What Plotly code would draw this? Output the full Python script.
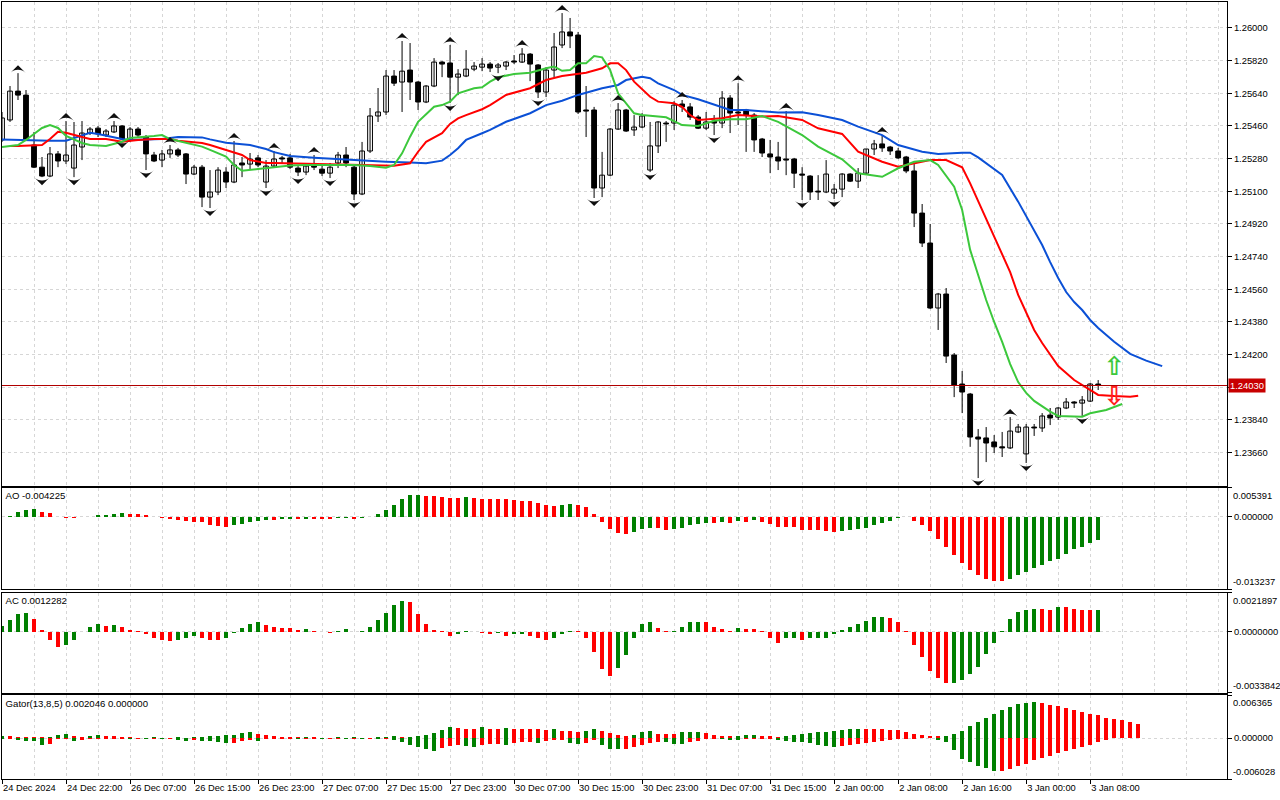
import plotly.graph_objects as go

# ---------------- data ----------------
time_labels = ["24 Dec 2024", "24 Dec 22:00", "26 Dec 07:00", "26 Dec 15:00", "26 Dec 23:00",
               "27 Dec 07:00", "27 Dec 15:00", "27 Dec 23:00", "30 Dec 07:00", "30 Dec 15:00",
               "30 Dec 23:00", "31 Dec 07:00", "31 Dec 15:00", "2 Jan 00:00", "2 Jan 08:00",
               "2 Jan 16:00", "3 Jan 00:00", "3 Jan 08:00"]

opens = [1.25383,1.25493,1.25652,1.25630,1.25355,1.25233,1.25184,1.25306,1.25267,1.25228,
         1.25344,1.25421,1.25448,1.25410,1.25427,1.25460,1.25383,1.25443,1.25399,1.25300,
         1.25272,1.25306,1.25328,1.25306,1.25195,1.25233,1.25068,1.25096,1.25206,1.25151,
         1.25256,1.25250,1.25284,1.25151,1.25239,1.25284,1.25284,1.25228,1.25206,1.25245,
         1.25222,1.25200,1.25256,1.25300,1.25233,1.25085,1.25322,1.25515,1.25537,1.25735,
         1.25702,1.25768,1.25702,1.25592,1.25680,1.25812,1.25807,1.25729,1.25735,1.25773,
         1.25784,1.25801,1.25784,1.25790,1.25818,1.25812,1.25856,1.25796,1.25647,1.25768,
         1.25906,1.25978,1.25961,1.25548,1.25548,1.25118,1.25189,1.25443,1.25548,1.25438,
         1.25454,1.25217,1.25350,1.25476,1.25476,1.25581,1.25565,1.25509,1.25448,1.25487,
         1.25476,1.25614,1.25537,1.25548,1.25520,1.25388,1.25306,1.25289,1.25278,1.25278,
         1.25195,1.25184,1.25101,1.25096,1.25090,1.25112,1.25195,1.25156,1.25200,1.25333,
         1.25361,1.25344,1.25322,1.25289,1.25212,1.24980,1.24815,1.24457,1.24534,1.24198,
         1.24038,1.23983,1.23746,1.23741,1.23719,1.23692,1.23686,1.23774,1.23653,1.23801,
         1.23796,1.23867,1.23856,1.23906,1.23939,1.23933,1.23944,1.24038]
highs = [1.25537,1.25680,1.25751,1.25658,1.25427,1.25289,1.25344,1.25322,1.25487,1.25482,
         1.25487,1.25454,1.25460,1.25443,1.25487,1.25465,1.25454,1.25454,1.25410,1.25317,
         1.25328,1.25355,1.25339,1.25311,1.25245,1.25245,1.25217,1.25233,1.25233,1.25377,
         1.25289,1.25311,1.25300,1.25272,1.25322,1.25295,1.25306,1.25245,1.25256,1.25300,
         1.25239,1.25256,1.25317,1.25344,1.25245,1.25372,1.25559,1.25669,1.25768,1.25768,
         1.25928,1.25917,1.25707,1.25685,1.25834,1.25818,1.25906,1.25773,1.25878,1.25812,
         1.25834,1.25812,1.25807,1.25818,1.25851,1.25889,1.25862,1.25801,1.25784,1.25972,
         1.26082,1.26055,1.25978,1.25680,1.25565,1.25317,1.25448,1.25586,1.25554,1.25520,
         1.25531,1.25482,1.25487,1.25487,1.25597,1.25603,1.25586,1.25520,1.25537,1.25520,
         1.25652,1.25630,1.25696,1.25554,1.25531,1.25394,1.25383,1.25372,1.25542,1.25284,
         1.25233,1.25189,1.25189,1.25272,1.25140,1.25200,1.25200,1.25228,1.25333,1.25383,
         1.25410,1.25350,1.25339,1.25295,1.25250,1.25030,1.24920,1.24540,1.24567,1.24209,
         1.24110,1.23989,1.23790,1.23801,1.23757,1.23774,1.23856,1.23818,1.23818,1.23818,
         1.23878,1.23906,1.23911,1.23961,1.23944,1.23972,1.24044,1.24060]
lows = [1.25372,1.25482,1.25603,1.25383,1.25228,1.25178,1.25178,1.25233,1.25250,1.25178,
        1.25272,1.25410,1.25399,1.25399,1.25421,1.25383,1.25372,1.25399,1.25217,1.25261,
        1.25233,1.25284,1.25289,1.25140,1.25189,1.25013,1.25008,1.25079,1.25118,1.25145,
        1.25178,1.25217,1.25233,1.25118,1.25233,1.25256,1.25222,1.25184,1.25189,1.25217,
        1.25184,1.25173,1.25228,1.25233,1.25052,1.25079,1.25311,1.25482,1.25520,1.25680,
        1.25537,1.25603,1.25548,1.25586,1.25674,1.25729,1.25586,1.25630,1.25729,1.25762,
        1.25762,1.25757,1.25751,1.25768,1.25801,1.25807,1.25707,1.25614,1.25619,1.25729,
        1.25889,1.25889,1.25526,1.25399,1.25063,1.25068,1.25184,1.25438,1.25427,1.25405,
        1.25448,1.25206,1.25311,1.25372,1.25438,1.25537,1.25493,1.25443,1.25438,1.25410,
        1.25448,1.25421,1.25465,1.25317,1.25317,1.25289,1.25200,1.25217,1.25189,1.25118,
        1.25052,1.25052,1.25052,1.25090,1.25057,1.25068,1.25151,1.25118,1.25195,1.25300,
        1.25317,1.25300,1.25278,1.25200,1.24903,1.24793,1.24451,1.24336,1.24154,1.23966,
        1.23878,1.23692,1.23520,1.23608,1.23658,1.23636,1.23680,1.23768,1.23603,1.23752,
        1.23774,1.23812,1.23840,1.23900,1.23906,1.23862,1.23939,1.24005]
closes = [1.25504,1.25652,1.25630,1.25388,1.25233,1.25184,1.25306,1.25267,1.25300,1.25355,
          1.25421,1.25443,1.25416,1.25432,1.25460,1.25388,1.25443,1.25410,1.25306,1.25267,
          1.25306,1.25328,1.25300,1.25195,1.25233,1.25068,1.25096,1.25217,1.25151,1.25245,
          1.25245,1.25278,1.25245,1.25239,1.25278,1.25278,1.25233,1.25206,1.25239,1.25233,
          1.25200,1.25233,1.25300,1.25256,1.25085,1.25322,1.25515,1.25537,1.25735,1.25696,
          1.25762,1.25702,1.25592,1.25680,1.25812,1.25801,1.25729,1.25746,1.25773,1.25790,
          1.25801,1.25779,1.25796,1.25812,1.25812,1.25856,1.25801,1.25647,1.25768,1.25895,
          1.25978,1.25956,1.25537,1.25542,1.25118,1.25189,1.25443,1.25548,1.25432,1.25454,
          1.25515,1.25350,1.25482,1.25471,1.25575,1.25565,1.25509,1.25448,1.25482,1.25476,
          1.25614,1.25531,1.25531,1.25520,1.25383,1.25311,1.25289,1.25267,1.25272,1.25200,
          1.25189,1.25096,1.25096,1.25195,1.25112,1.25195,1.25156,1.25200,1.25333,1.25361,
          1.25339,1.25322,1.25284,1.25212,1.24980,1.24815,1.24457,1.24534,1.24192,1.24033,
          1.23994,1.23746,1.23735,1.23713,1.23692,1.23686,1.23779,1.23801,1.23801,1.23796,
          1.23862,1.23851,1.23906,1.23939,1.23933,1.23950,1.24038,1.24030]

current_price = 1.24030

jaw_bars = [0,2,6,8,10,11,12,14,15,16,20,22,25,26,28,31,33,34,36,39,44,46,48,51,53,55,56,57,58,60,
            61,63,66,68,70,72,75,77,78,80,81,82,84,85,87,90,91,93,95,97,100,102,105,107,110,112,115,
            117,120,121,122,125,127,130,131,132,133,134,135,136,137,139,141,143,145]
jaw_vals = [1.25386,1.25383,1.25379,1.25379,1.25410,1.25423,1.25416,1.25396,1.25388,1.25383,
            1.25388,1.25399,1.25397,1.25386,1.25368,1.25355,1.25333,1.25316,1.25294,1.25285,
            1.25272,1.25269,1.25263,1.25258,1.25254,1.25269,1.25300,1.25337,1.25383,1.25420,
            1.25438,1.25483,1.25530,1.25575,1.25599,1.25631,1.25668,1.25686,1.25713,1.25731,
            1.25723,1.25695,1.25658,1.25631,1.25607,1.25563,1.25548,1.25548,1.25540,1.25534,
            1.25535,1.25520,1.25493,1.25456,1.25410,1.25355,1.25318,1.25306,1.25313,1.25313,
            1.25287,1.25190,1.25043,1.24804,1.24710,1.24622,1.24545,1.24490,1.24446,1.24391,
            1.24347,1.24271,1.24204,1.24167,1.24137]

teeth_bars = [1,2,5,6,7,8,10,11,13,15,17,19,21,22,25,26,28,30,31,33,34,36,38,43,46,49,51,52,53,55,
              56,57,58,60,61,62,63,66,68,70,72,73,75,76,77,78,79,81,82,84,85,86,87,90,92,95,97,100,
              102,105,107,110,112,114,116,118,120,121,123,126,127,129,130,132,134,136,137,139,141,142]
teeth_vals = [1.25350,1.25350,1.25355,1.25388,1.25428,1.25423,1.25399,1.25388,1.25388,1.25373,
              1.25383,1.25388,1.25388,1.25379,1.25366,1.25355,1.25328,1.25300,1.25272,1.25256,
              1.25256,1.25254,1.25249,1.25247,1.25241,1.25241,1.25254,1.25318,1.25373,1.25420,
              1.25471,1.25502,1.25520,1.25552,1.25575,1.25603,1.25631,1.25668,1.25713,1.25735,
              1.25746,1.25753,1.25778,1.25805,1.25805,1.25768,1.25704,1.25621,1.25594,1.25585,
              1.25566,1.25520,1.25493,1.25502,1.25520,1.25512,1.25515,1.25493,1.25447,1.25416,
              1.25318,1.25263,1.25236,1.25254,1.25272,1.25272,1.25232,1.25144,1.24951,1.24655,
              1.24529,1.24336,1.24264,1.24137,1.24060,1.24005,1.23978,1.23972,1.23968,1.23974]

lips_bars = [0,2,3,5,6,7,8,10,11,13,15,16,19,20,21,23,25,26,28,29,30,32,34,36,38,41,44,46,48,49,
             50,51,52,54,55,56,57,59,60,61,62,64,66,68,69,70,71,72,73,74,75,76,77,79,80,83,85,87,89,
             91,93,95,97,100,102,105,107,110,112,114,116,117,119,120,121,122,123,124,125,126,127,
             128,129,131,132,135,136,138,140]
lips_vals = [1.25344,1.25355,1.25383,1.25449,1.25465,1.25449,1.25405,1.25366,1.25355,1.25350,
             1.25373,1.25394,1.25405,1.25410,1.25388,1.25368,1.25346,1.25328,1.25291,1.25245,
             1.25213,1.25223,1.25234,1.25242,1.25245,1.25245,1.25245,1.25239,1.25230,1.25245,
             1.25309,1.25401,1.25483,1.25566,1.25575,1.25594,1.25640,1.25668,1.25673,1.25704,
             1.25728,1.25746,1.25753,1.25778,1.25787,1.25764,1.25768,1.25805,1.25805,1.25845,
             1.25838,1.25768,1.25640,1.25530,1.25520,1.25508,1.25465,1.25460,1.25489,1.25497,
             1.25497,1.25515,1.25483,1.25410,1.25346,1.25276,1.25199,1.25180,1.25227,1.25263,
             1.25272,1.25245,1.25125,1.24997,1.24777,1.24639,1.24501,1.24380,1.24270,1.24148,
             1.24049,1.23989,1.23945,1.23886,1.23862,1.23858,1.23877,1.23895,1.23928]

fractal_up_bars = [2, 8, 14, 21, 29, 34, 39, 50, 56, 65, 70, 77, 85, 92, 98, 110, 126]
fractal_down_bars = [5, 9, 15, 18, 26, 33, 37, 41, 44, 56, 62, 67, 74, 81, 89, 100, 104, 122, 128, 135]

signal_bars = [139, 139]
signal_prices = [1.24126, 1.23961]
signal_glyphs = ["\u21e7", "\u21e9"]

ao = [0.00005,0.00024,0.00085,0.00135,0.00138,0.00098,0.00068,-0.00006,-0.00024,-0.00028,
      -0.00009,0.00006,0.00037,0.00042,0.00061,0.00079,0.00061,0.00059,0.00042,0.00004,
      -0.00013,-0.00037,-0.00061,-0.00079,-0.00087,-0.00098,-0.00142,-0.00171,-0.00179,-0.00153,
      -0.00135,-0.00098,-0.00079,-0.00061,-0.00065,-0.00042,-0.00041,-0.00044,-0.00031,-0.00033,
      -0.00044,-0.00046,-0.00024,-0.00022,-0.00042,-0.00015,-0.00004,0.00061,0.00135,0.00227,
      0.00319,0.00393,0.00395,0.00391,0.00378,0.00360,0.00347,0.00343,0.00369,0.00345,
      0.00332,0.00330,0.00326,0.00319,0.00301,0.00295,0.00290,0.00258,0.00221,0.00203,
      0.00221,0.00240,0.00221,0.00184,0.00055,-0.00087,-0.00216,-0.00290,-0.00308,-0.00271,
      -0.00216,-0.00197,-0.00208,-0.00234,-0.00216,-0.00197,-0.00142,-0.00124,-0.00105,-0.00107,
      -0.00103,-0.00105,-0.00068,-0.00087,-0.00066,-0.00087,-0.00124,-0.00179,-0.00181,-0.00190,
      -0.00234,-0.00236,-0.00245,-0.00264,-0.00271,-0.00253,-0.00234,-0.00221,-0.00197,-0.00142,
      -0.00105,-0.00068,-0.00018,0.00006,-0.00068,-0.00142,-0.00253,-0.00400,-0.00548,-0.00701,
      -0.00843,-0.00972,-0.01064,-0.01149,-0.01175,-0.01177,-0.01138,-0.01075,-0.01009,-0.00940,
      -0.00885,-0.00811,-0.00769,-0.00677,-0.00596,-0.00553,-0.00485,-0.004225]

ac = [0.00035,0.00067,0.00099,0.00106,0.00072,0.00011,-0.00048,-0.00087,-0.00076,-0.00048,
      0.00001,0.00028,0.00045,0.00033,0.00039,0.00028,0.00011,0.00006,-0.00013,-0.00037,
      -0.00048,-0.00049,-0.00048,-0.00037,-0.00026,-0.00032,-0.00043,-0.00048,-0.00032,-0.00009,
      0.00022,0.00045,0.00056,0.00039,0.00028,0.00022,0.00021,0.00011,0.00017,0.00006,
      -0.00001,-0.00004,0.00006,0.00017,-0.00002,0.00006,0.00028,0.00067,0.00106,0.00150,
      0.00173,0.00167,0.00100,0.00045,0.00011,0.00002,-0.00021,-0.00015,0.00006,-0.00002,
      -0.00009,-0.00015,-0.00009,-0.00021,-0.00015,-0.00014,-0.00021,-0.00032,-0.00043,-0.00037,
      -0.00015,0.00006,0.00005,-0.00032,-0.00115,-0.00210,-0.00249,-0.00204,-0.00132,-0.00037,
      0.00041,0.00052,0.00022,0.00002,0.00006,0.00024,0.00056,0.00057,0.00052,0.00028,
      0.00017,0.00007,0.00022,0.00017,0.00016,0.00002,-0.00032,-0.00060,-0.00037,-0.00036,
      -0.00043,-0.00037,-0.00036,-0.00032,-0.00015,0.00011,0.00028,0.00045,0.00061,0.00080,
      0.00084,0.00078,0.00052,0.00002,-0.00071,-0.00143,-0.00216,-0.00260,-0.00288,-0.00287,
      -0.00271,-0.00238,-0.00199,-0.00126,-0.00065,0.00002,0.00072,0.00108,0.00123,0.00126,
      0.00125,0.00124,0.00139,0.00137,0.00128,0.00122,0.00119,0.0012282]

gator_up = [0.000246,0.000246,0.000197,0.000148,0.000148,0.000098,0.000148,0.000492,0.000640,0.000246,
            0.000240,0.000344,0.000492,0.000344,0.000246,0.000148,0.000098,0.000092,0.000049,0.000098,
            0.000092,0.000049,0.000098,0.000049,0.000148,0.000197,0.000246,0.000295,0.000394,0.000492,
            0.000738,0.000836,0.000590,0.000492,0.000246,0.000148,0.000140,0.000098,0.000148,0.000098,
            0.000092,0.000049,0.000098,0.000049,0.000098,0.000092,0.000049,0.000098,0.000148,0.000344,
            0.000148,0.000197,0.000295,0.000492,0.000738,0.001230,0.001624,0.001476,0.001378,0.001353,
            0.001574,0.001378,0.001353,0.001476,0.001378,0.001353,0.001328,0.001304,0.001230,0.001378,
            0.001082,0.001058,0.000886,0.000984,0.001378,0.001082,0.000738,0.000492,0.000246,0.000394,
            0.000836,0.000984,0.000590,0.000566,0.000541,0.000836,0.000861,0.000886,0.000738,0.000492,
            0.000344,0.000246,0.000271,0.000394,0.000492,0.000344,0.000246,0.000148,0.000246,0.000394,
            0.000590,0.000738,0.000836,0.000861,0.000984,0.001230,0.001378,0.001402,0.001378,0.001353,
            0.001328,0.001230,0.001205,0.000886,0.000640,0.000492,0.000344,0.000246,0.000271,0.000640,
            0.001082,0.001722,0.002362,0.002952,0.003542,0.004084,0.004576,0.005018,0.005166,0.005314,
            0.005166,0.004822,0.004674,0.004428,0.004182,0.003838,0.003592,0.003346,0.002952,0.002804,
            0.002608,0.002312,0.002046]

gator_dn = [-0.000148,-0.000140,-0.000246,-0.000394,-0.000492,-0.000984,-0.000836,-0.000148,-0.000098,-0.000394,
            -0.000344,-0.000197,-0.000148,-0.000140,-0.000098,-0.000092,-0.000148,-0.000098,-0.000148,-0.000098,
            -0.000197,-0.000148,-0.000246,-0.000394,-0.000246,-0.000394,-0.000492,-0.000590,-0.000738,-0.000730,
            -0.000492,-0.000246,-0.000394,-0.000197,-0.000148,-0.000098,-0.000092,-0.000148,-0.000098,-0.000092,
            -0.000148,-0.000098,-0.000092,-0.000148,-0.000098,-0.000148,-0.000098,-0.000148,-0.000140,-0.000246,
            -0.000590,-0.001082,-0.001378,-0.001624,-0.001870,-0.001476,-0.001230,-0.001082,-0.001230,-0.001378,
            -0.000984,-0.000886,-0.000836,-0.001082,-0.000738,-0.000590,-0.000580,-0.000738,-0.000492,-0.000344,
            -0.000246,-0.000738,-0.000836,-0.000738,-0.000246,-0.000984,-0.001624,-0.001630,-0.001620,-0.001328,
            -0.000984,-0.000738,-0.000590,-0.000640,-0.000836,-0.000886,-0.000590,-0.000394,-0.000098,-0.000092,
            -0.000148,-0.000246,-0.000271,-0.000098,-0.000092,-0.000090,-0.000088,-0.000246,-0.000394,-0.000590,
            -0.000640,-0.000738,-0.000984,-0.001132,-0.001328,-0.001132,-0.000984,-0.000836,-0.000738,-0.000590,
            -0.000394,-0.000246,-0.000148,-0.000098,-0.000092,-0.000049,-0.000045,-0.000246,-0.000640,-0.001722,
            -0.003050,-0.003592,-0.004182,-0.004428,-0.004920,-0.004822,-0.004526,-0.004182,-0.003788,-0.003296,
            -0.002952,-0.002608,-0.002214,-0.001870,-0.001574,-0.001328,-0.000984,-0.000640,-0.000246,-0.000049,
            0.0]

price_ticks = [1.26000, 1.25820, 1.25640, 1.25460, 1.25280, 1.25100, 1.24920, 1.24740,
               1.24560, 1.24380, 1.24200, 1.24020, 1.23840, 1.23660]
main_range = [1.23479, 1.26143]
ao_range = [-0.013237, 0.005391]
ac_range = [-0.0033842, 0.0021897]
gator_range = [-0.006028, 0.006365]
ao_title = "AO -0.004225"
ac_title = "AC 0.0012282"
gator_title = "Gator(13,8,5) 0.002046 0.000000"

# ---------------- styling ----------------
FONT = "Liberation Sans, Arial, sans-serif"
GREEN = "#008000"
RED = "#ff0000"
GRIDC = "#d6d6d6"
X_RANGE = [0, 153.1]
FR_OFF = 0.00044
TITLE_X = 0.45   # small inset from the left frame, in bar units

n = len(opens)
bars = list(range(n))


def trend_colors(vals):
    cols = [GREEN]
    for i in range(1, len(vals)):
        cols.append(GREEN if vals[i] > vals[i - 1] else RED)
    return cols


def abs_trend_colors(vals):
    cols = [GREEN]
    for i in range(1, len(vals)):
        cols.append(GREEN if abs(vals[i]) > abs(vals[i - 1]) else RED)
    return cols


# ---------------- panel geometry (pixels of the 1280x800 page) ----------------
H_PLOT = 777.0


def dom(top_px, bot_px):
    return [(779 - bot_px) / H_PLOT, (779 - top_px) / H_PLOT]


P_MAIN = (2, 485.5)
P_AO = (487.5, 589)
P_AC = (592.5, 692.5)
P_GT = (695, 779)
d_main = dom(*P_MAIN)
d_ao = dom(*P_AO)
d_ac = dom(*P_AC)
d_gt = dom(*P_GT)


def title_y(rng, panel, px_below_top=9.5):
    top, bot = panel
    return rng[1] - (rng[1] - rng[0]) * px_below_top / (bot - top)


fig = go.Figure()

# candles: wicks
wx, wy = [], []
for i in bars:
    wx += [i, i, None]
    wy += [lows[i], highs[i], None]
fig.add_trace(go.Scatter(x=wx, y=wy, mode="lines", line=dict(color="black", width=1),
                         hoverinfo="skip", xaxis="x", yaxis="y"))
# candles: bodies
base = [min(o, c) for o, c in zip(opens, closes)]
height = [max(abs(c - o), 0.000015) for o, c in zip(opens, closes)]
bcol = ["white" if c >= o else "black" for o, c in zip(opens, closes)]
fig.add_trace(go.Bar(x=bars, y=height, base=base, width=0.6,
                     marker=dict(color=bcol, line=dict(color="black", width=1)),
                     xaxis="x", yaxis="y"))

# alligator
fig.add_trace(go.Scatter(x=jaw_bars, y=jaw_vals, mode="lines",
                         line=dict(color="#0b50d6", width=2), xaxis="x", yaxis="y"))
fig.add_trace(go.Scatter(x=teeth_bars, y=teeth_vals, mode="lines",
                         line=dict(color="#ff0000", width=2), xaxis="x", yaxis="y"))
fig.add_trace(go.Scatter(x=lips_bars, y=lips_vals, mode="lines",
                         line=dict(color="#3cc83c", width=2), xaxis="x", yaxis="y"))

# fractals
fig.add_trace(go.Scatter(x=fractal_up_bars, y=[highs[k] + FR_OFF for k in fractal_up_bars],
                         mode="markers",
                         marker=dict(symbol="arrow-wide", size=11, color="#101010", angle=0,
                                     line=dict(width=0)),
                         xaxis="x", yaxis="y"))
fig.add_trace(go.Scatter(x=fractal_down_bars, y=[lows[k] - FR_OFF for k in fractal_down_bars],
                         mode="markers",
                         marker=dict(symbol="arrow-wide", size=11, color="#101010", angle=180,
                                     line=dict(width=0)),
                         xaxis="x", yaxis="y"))

# signal arrows
fig.add_trace(go.Scatter(x=signal_bars, y=signal_prices, mode="text", text=signal_glyphs,
                         textfont=dict(size=26, color=["#3cc83c", "#ff2020"], family="DejaVu Sans",
                                       weight="bold"),
                         xaxis="x", yaxis="y"))

# AO
fig.add_trace(go.Bar(x=bars, y=ao, width=0.5, marker=dict(color=trend_colors(ao), line=dict(width=0)),
                     xaxis="x2", yaxis="y2"))
# AC
fig.add_trace(go.Bar(x=bars, y=ac, width=0.5, marker=dict(color=trend_colors(ac), line=dict(width=0)),
                     xaxis="x3", yaxis="y3"))
# Gator
fig.add_trace(go.Bar(x=list(range(len(gator_up))), y=gator_up, width=0.5,
                     marker=dict(color=abs_trend_colors(gator_up), line=dict(width=0)),
                     xaxis="x4", yaxis="y4"))
fig.add_trace(go.Bar(x=list(range(len(gator_dn))), y=gator_dn, width=0.5,
                     marker=dict(color=abs_trend_colors(gator_dn), line=dict(width=0)),
                     xaxis="x4", yaxis="y4"))

# sub-panel titles (text anchored at the start so they sit flush left)
for title, rng, panel, xa, ya in [(ao_title, ao_range, P_AO, "x2", "y2"),
                                  (ac_title, ac_range, P_AC, "x3", "y3"),
                                  (gator_title, gator_range, P_GT, "x4", "y4")]:
    fig.add_trace(go.Scatter(x=[TITLE_X], y=[title_y(rng, panel)], mode="text", text=[title],
                             textposition="middle right", cliponaxis=False,
                             textfont=dict(family=FONT, size=9.6, color="black"),
                             xaxis=xa, yaxis=ya))

# ---------------- layout ----------------
grid = dict(showgrid=True, gridcolor=GRIDC, griddash="3px,3px", gridwidth=1)
frame = dict(showline=True, mirror=True, linecolor="black", linewidth=1, zeroline=False,
             automargin=False)
grid_bars = list(range(0, 154, 4))
label_bars = [8 * i for i in range(len(time_labels))]
minor_bars = [b for b in grid_bars if b % 8]
tfont = dict(family=FONT, size=9.4, color="black")

xcommon = dict(range=X_RANGE, tickvals=grid_bars, showticklabels=False, ticks="", **grid, **frame)
layout = dict(
    template="none",
    width=1280, height=800, autosize=False,
    margin=dict(l=2, r=53, t=2, b=21, pad=0),
    paper_bgcolor="white", plot_bgcolor="white",
    showlegend=False, barmode="overlay", bargap=0,
    font=dict(family=FONT, size=10, color="black"),
    hovermode=False,
    xaxis=dict(domain=[0, 1], anchor="y", **xcommon),
    xaxis2=dict(domain=[0, 1], anchor="y2", **xcommon),
    xaxis3=dict(domain=[0, 1], anchor="y3", **xcommon),
    xaxis4=dict(domain=[0, 1], anchor="y4", range=X_RANGE, tickvals=label_bars, ticktext=time_labels,
                ticks="outside", ticklen=4, tickcolor="black", ticklabelposition="outside right",
                tickangle=0,
                tickfont=dict(family=FONT, size=9.3, color="black"),
                minor=dict(tickvals=minor_bars, showgrid=True, gridcolor=GRIDC, griddash="3px,3px",
                           ticks=""),
                **grid, **frame),
    yaxis=dict(domain=d_main, anchor="x", side="right", range=main_range, tickvals=price_ticks,
               ticktext=["" if abs(v - 1.24020) < 1e-9 else f"{v:.5f}" for v in price_ticks],
               ticks="outside", ticklen=4, tickcolor="black", tickfont=tfont, **grid, **frame),
    yaxis2=dict(domain=d_ao, anchor="x2", side="right", range=ao_range,
                tickvals=[ao_range[0], 0, ao_range[1]], ticktext=["", "0.000000", ""],
                ticks="outside", ticklen=4, tickcolor="black", tickfont=tfont, **grid, **frame),
    yaxis3=dict(domain=d_ac, anchor="x3", side="right", range=ac_range,
                tickvals=[ac_range[0], 0, ac_range[1]], ticktext=["", "0.0000000", ""],
                ticks="outside", ticklen=4, tickcolor="black", tickfont=tfont, **grid, **frame),
    yaxis4=dict(domain=d_gt, anchor="x4", side="right", range=gator_range,
                tickvals=[gator_range[0], 0, gator_range[1]], ticktext=["", "0.000000", ""],
                ticks="outside", ticklen=4, tickcolor="black", tickfont=tfont, **grid, **frame),
)
fig.update_layout(**layout)

# current price line + label
fig.add_shape(type="line", xref="x domain", yref="y", x0=0, x1=1, y0=current_price, y1=current_price,
              line=dict(color="#b00000", width=1))
fig.add_annotation(xref="paper", yref="y", x=1, y=current_price, xanchor="left", yanchor="middle",
                   text=f"{current_price:.5f}", showarrow=False, bgcolor="#c80000",
                   font=dict(family=FONT, size=9.4, color="white"), borderpad=1, xshift=1)

# extreme scale labels of sub-panels
for rng, d, fmt in [(ao_range, d_ao, "{:.6f}"), (ac_range, d_ac, "{:.7f}"), (gator_range, d_gt, "{:.6f}")]:
    fig.add_annotation(xref="paper", yref="paper", x=1, y=d[1], xanchor="left", yanchor="top",
                       text=fmt.format(rng[1]), showarrow=False, xshift=4, align="left", width=48,
                       font=tfont)
    fig.add_annotation(xref="paper", yref="paper", x=1, y=d[0], xanchor="left", yanchor="bottom",
                       text=fmt.format(rng[0]), showarrow=False, xshift=4, align="left", width=48,
                       font=tfont)

fig.write_html("out.html", config={"displayModeBar": False, "staticPlot": True},
               post_script="document.body.style.margin='0';document.body.style.overflow='hidden';")
